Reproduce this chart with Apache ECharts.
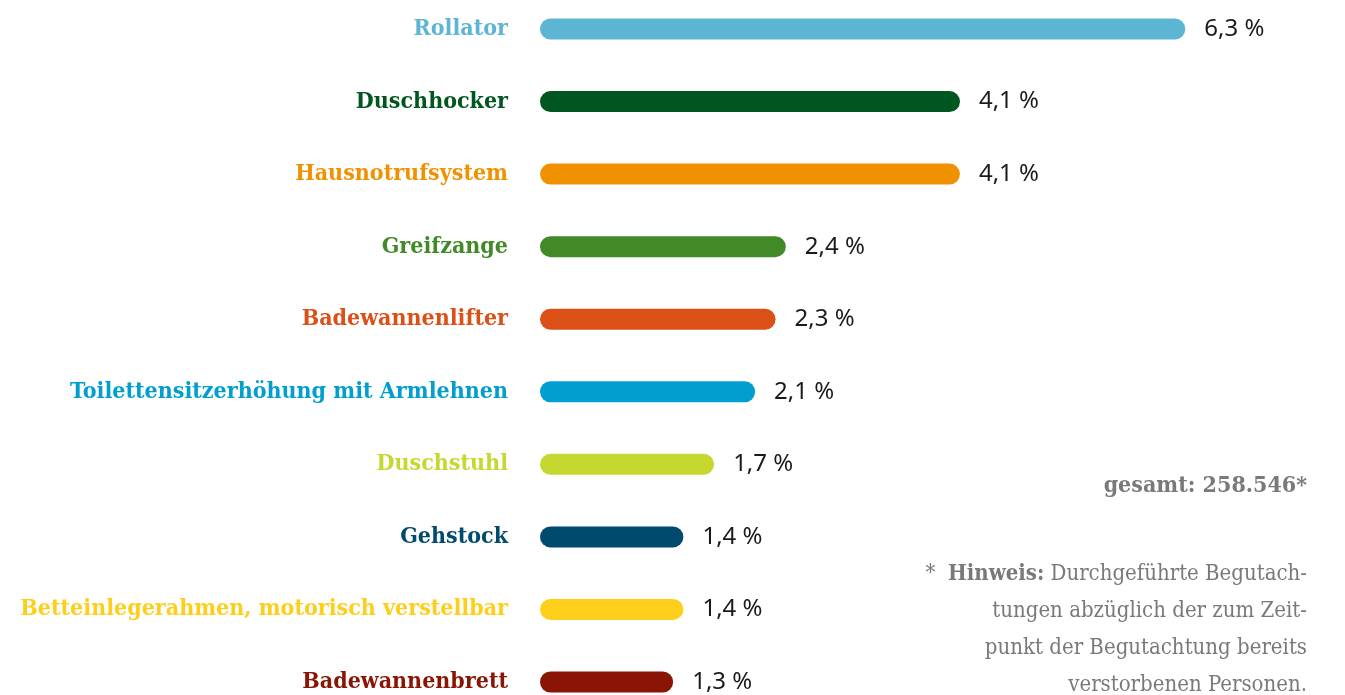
<!DOCTYPE html>
<html>
<head>
<meta charset="utf-8">
<script src="https://cdn.jsdelivr.net/npm/echarts@6/dist/echarts.min.js"></script>
<style>
  html, body { margin: 0; padding: 0; background: #fff; }
  #chart { width: 1345px; height: 695px; }
</style>
</head>
<body>
<div id="chart"></div>
<script>
// Hilfsmittel und Anteile (in %)
var categories = [
  'Rollator', 'Duschhocker', 'Hausnotrufsystem', 'Greifzange', 'Badewannenlifter',
  'Toilettensitzerhöhung mit Armlehnen', 'Duschstuhl', 'Gehstock',
  'Betteinlegerahmen, motorisch verstellbar', 'Badewannenbrett'
]
var values = [6.3, 4.1, 4.1, 2.4, 2.3, 2.1, 1.7, 1.4, 1.4, 1.3]
var totalText = 'gesamt: 258.546*'
var noteLines = [
  'Durchgeführte Begutach-',
  'tungen abzüglich der zum Zeit-',
  'punkt der Begutachtung bereits',
  'verstorbenen Personen.'
]

// Farben je Balken
var colors = ['#5bb5d3', '#00561f', '#f29100', '#418a27', '#da5016',
  '#009fcf', '#c6d72f', '#004b6d', '#fdcf1b', '#8b1505']

var labelFont = '"DejaVu Serif Condensed", "DejaVu Serif", serif'
var numFont = '"Noto Sans", sans-serif'
var grey = '#797979'

var myChart = echarts.init(document.getElementById('chart'))

var noteGraphics = [
  {
    type: 'text', right: 38, top: 475,
    style: { text: totalText, font: 'bold 23px ' + labelFont, fill: grey, textAlign: 'right' }
  },
  {
    type: 'text', right: 38, top: 563,
    style: {
      text: '*  {b|Hinweis:} ' + noteLines[0],
      font: '22px ' + labelFont, fill: grey,
      rich: { b: { fontWeight: 'bold', fontFamily: labelFont, fontSize: 22, fill: grey } }
    }
  }
]
for (var i = 1; i < noteLines.length; i++) {
  noteGraphics.push({
    type: 'text', right: 38, top: 563 + i * 37,
    style: { text: noteLines[i], font: '22px ' + labelFont, fill: grey }
  })
}

var option = {
  animation: false,
  grid: {
    left: 540,
    top: 29,
    width: 717,
    height: 653,
    containLabel: false
  },
  xAxis: {
    type: 'value',
    min: 0,
    max: 7,
    show: false
  },
  yAxis: {
    type: 'category',
    inverse: true,
    boundaryGap: false,
    data: categories,
    axisLine: { show: false },
    axisTick: { show: false },
    axisLabel: {
      margin: 32,
      fontFamily: labelFont,
      fontWeight: 'bold',
      fontSize: 23,
      color: function (value, index) { return colors[index] }
    }
  },
  series: [
    {
      type: 'bar',
      data: values.map(function (v, i) {
        return { value: v, itemStyle: { color: colors[i] } }
      }),
      barWidth: 21,
      itemStyle: { borderRadius: 10.5 },
      label: {
        show: true,
        position: 'right',
        distance: 19,
        fontFamily: numFont,
        fontSize: 24,
        color: '#1a1a1a',
        formatter: function (p) { return String(p.value).replace('.', ',') + ' %' }
      }
    }
  ],
  graphic: noteGraphics
}

myChart.setOption(option)
</script>
</body>
</html>
